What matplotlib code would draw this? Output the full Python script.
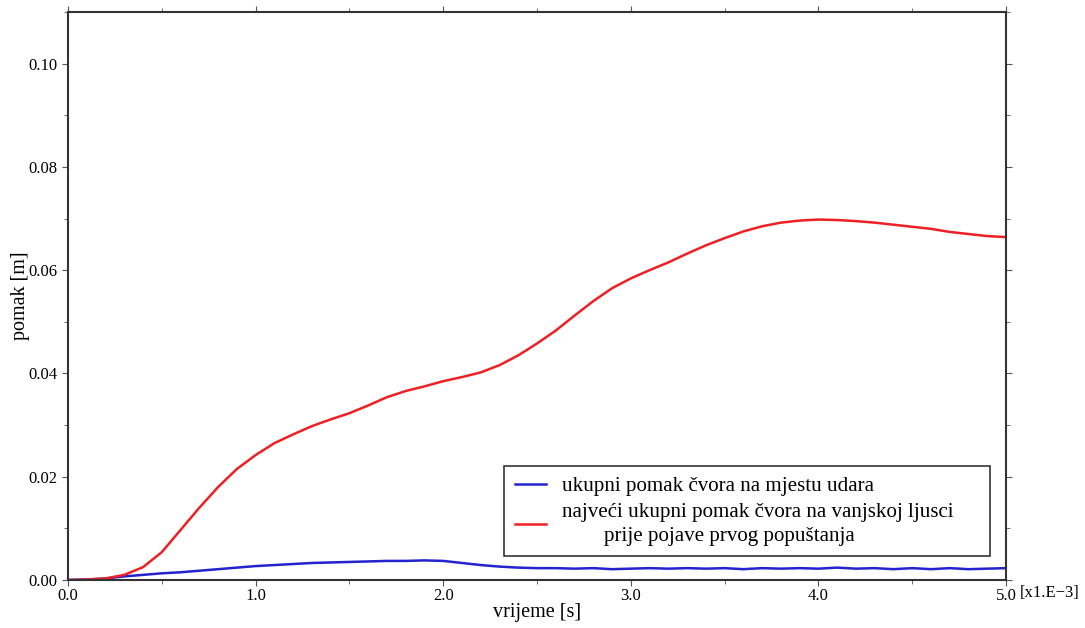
import numpy as np
import matplotlib
matplotlib.use("Agg")
import matplotlib.pyplot as plt
from matplotlib.ticker import MultipleLocator, FormatStrFormatter

t_red = [0.0, 0.1, 0.2, 0.3, 0.4, 0.5, 0.6, 0.7, 0.8, 0.9, 1.0, 1.1, 1.2, 1.3, 1.4, 1.5,
         1.6, 1.7, 1.8, 1.9, 2.0, 2.1, 2.2, 2.3, 2.4, 2.5, 2.6, 2.7, 2.8, 2.9, 3.0,
         3.1, 3.2, 3.3, 3.4, 3.5, 3.6, 3.7, 3.8, 3.9, 4.0, 4.1, 4.2, 4.3, 4.4, 4.5,
         4.6, 4.7, 4.8, 4.9, 5.0]
red = [0.0, 0.0001, 0.0003, 0.0010, 0.0025, 0.0054, 0.0097, 0.0140, 0.0180, 0.0215,
       0.0242, 0.0265, 0.0282, 0.0298, 0.0311, 0.0323, 0.0338, 0.0354, 0.0366, 0.0375,
       0.0385, 0.0393, 0.0402, 0.0416, 0.0435, 0.0458, 0.0483, 0.0512, 0.0540, 0.0565,
       0.0584, 0.0600, 0.0615, 0.0632, 0.0648, 0.0662, 0.0675, 0.0685, 0.0692, 0.0696,
       0.0698, 0.0697, 0.0695, 0.0692, 0.0688, 0.0684, 0.0680, 0.0674, 0.0670, 0.0666,
       0.0664]

t_blue = [0.0, 0.1, 0.2, 0.3, 0.4, 0.5, 0.6, 0.7, 0.8, 0.9, 1.0, 1.1, 1.2, 1.3, 1.4, 1.5,
          1.6, 1.7, 1.8, 1.9, 2.0, 2.1, 2.2, 2.3, 2.4, 2.5, 2.6, 2.7, 2.8, 2.9, 3.0,
          3.1, 3.2, 3.3, 3.4, 3.5, 3.6, 3.7, 3.8, 3.9, 4.0, 4.1, 4.2, 4.3, 4.4, 4.5,
          4.6, 4.7, 4.8, 4.9, 5.0]
blue = [0.0, 0.0001, 0.0003, 0.0007, 0.0010, 0.0013, 0.0015, 0.0018, 0.0021, 0.0024,
        0.0027, 0.0029, 0.0031, 0.0033, 0.0034, 0.0035, 0.0036, 0.0037, 0.0037, 0.0038,
        0.0037, 0.0033, 0.0029, 0.0026, 0.0024, 0.0023, 0.0023, 0.0022, 0.0023, 0.0021,
        0.0022, 0.0023, 0.0022, 0.0023, 0.0022, 0.0023, 0.0021, 0.0023, 0.0022, 0.0023,
        0.0022, 0.0024, 0.0022, 0.0023, 0.0021, 0.0023, 0.0021, 0.0023, 0.0021, 0.0022,
        0.0023]

label_blue = "ukupni pomak čvora na mjestu udara"
label_red = ("najveći ukupni pomak čvora na vanjskoj ljusci" + "\u2007\u2007 " +
             "\n" + " " * 8 + "prije pojave prvog popuštanja")

plt.rcParams['font.family'] = ['Liberation Serif', 'DejaVu Serif']

fig = plt.figure(figsize=(10.85, 6.28), dpi=100)
ax = fig.add_axes([0.0627, 0.0764, 0.8645, 0.9046])

ax.plot(t_blue, blue, color='#2323cf', lw=1.8, label=label_blue)
ax.plot(t_red, red, color='#ee2024', lw=1.8, label=label_red)

ax.set_xlim(0, 5.0)
ax.set_ylim(0, 0.11)
ax.xaxis.set_major_locator(MultipleLocator(1.0))
ax.xaxis.set_minor_locator(MultipleLocator(0.5))
ax.yaxis.set_major_locator(MultipleLocator(0.02))
ax.yaxis.set_minor_locator(MultipleLocator(0.01))
ax.xaxis.set_major_formatter(FormatStrFormatter('%.1f'))
ax.yaxis.set_major_formatter(FormatStrFormatter('%.2f'))
ax.tick_params(which='both', direction='out', top=True, right=True, labelsize=12,
               color='#555555')
ax.tick_params(which='major', length=4)
ax.tick_params(which='minor', length=3)
ax.tick_params(axis='x', pad=2)
ax.set_yticks([0.0, 0.02, 0.04, 0.06, 0.08, 0.10])
for s in ax.spines.values():
    s.set_color('#333333')
    s.set_linewidth(1.5)

ax.set_xlabel("vrijeme [s]", fontsize=14.5)
ax.xaxis.set_label_coords(0.5, -0.058)
ax.xaxis.label.set_va('center')
ax.set_ylabel("pomak [m]", fontsize=14.5)
ax.yaxis.set_label_coords(-0.051, 0.5)
ax.yaxis.label.set_va('center')
ax.text(1.015, -0.023, "[x1.E\u22123]", transform=ax.transAxes, fontsize=12,
        va='center', ha='left')

leg = ax.legend(loc='lower right', bbox_to_anchor=(0.983, 0.042), fontsize=15.1,
                fancybox=False, edgecolor='#333333', framealpha=1,
                handlelength=1.5, handletextpad=0.75, borderpad=0.5,
                labelspacing=0.35, borderaxespad=0)
leg.get_frame().set_linewidth(1.2)
for txt in leg.get_texts():
    txt.set_multialignment('left')
    txt.set_linespacing(1.3)

fig.savefig("out.png", dpi=100)
